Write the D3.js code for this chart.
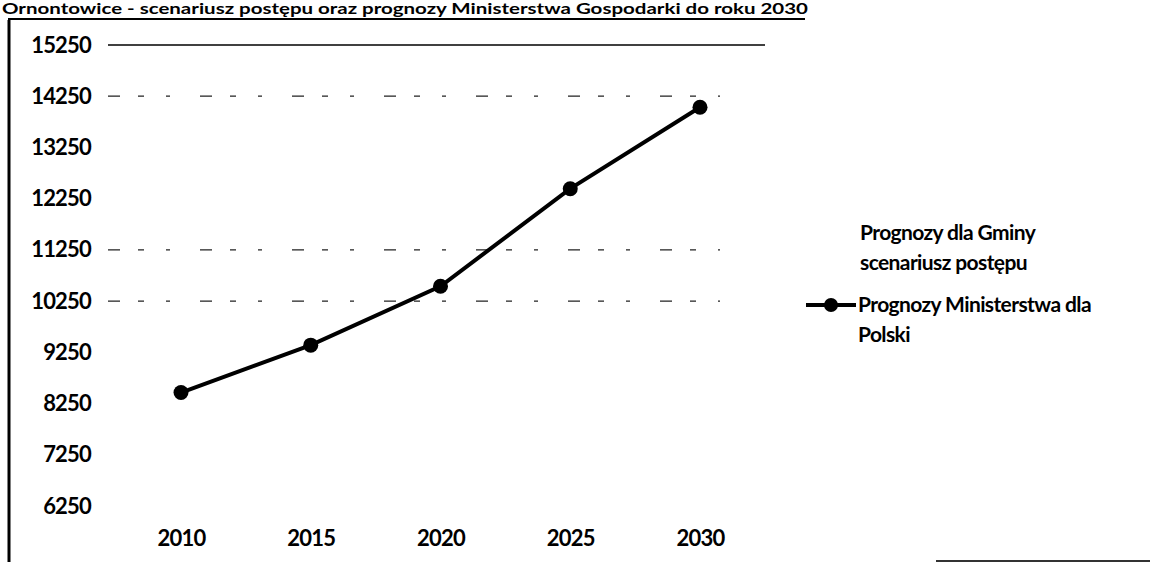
<!DOCTYPE html>
<html>
<head>
<meta charset="utf-8">
<script src="https://cdn.jsdelivr.net/npm/d3@7"></script>
<style>
  body { margin: 0; background: #fff; }
  svg { font-family: Lato, "Open Sans", sans-serif; font-weight: bold; }
</style>
</head>
<body>
<script>
const years = ["2010", "2015", "2020", "2025", "2030"];
const ministryValues = [8465, 9390, 10540, 12445, 14035];
const yTicks = [6250, 7250, 8250, 9250, 10250, 11250, 12250, 13250, 14250, 15250];
const visibleGrid = [10250, 11250, 14250];
const legendLabels = [["Prognozy dla Gminy", "scenariusz postępu"], ["Prognozy Ministerstwa dla", "Polski"]];
const title = "Ornontowice - scenariusz postępu oraz prognozy Ministerstwa Gospodarki do roku 2030";

const width = 1150, height = 562;

const svg = d3.select("body").append("svg")
  .attr("width", width)
  .attr("height", height);

// title squeezed into the strip above the frame
svg.append("text")
  .attr("x", 2)
  .attr("y", 14)
  .attr("font-size", 15)
  .attr("textLength", 806)
  .attr("lengthAdjust", "spacingAndGlyphs")
  .attr("fill", "#000")
  .text(title);

// frame pieces
svg.append("line").attr("x1", 8).attr("x2", 805).attr("y1", 19).attr("y2", 19)
  .attr("stroke", "#000").attr("stroke-width", 2);
svg.append("line").attr("x1", 9).attr("x2", 9).attr("y1", 20).attr("y2", 562)
  .attr("stroke", "#000").attr("stroke-width", 3);
svg.append("line").attr("x1", 936).attr("x2", 1150).attr("y1", 561).attr("y2", 561)
  .attr("stroke", "#333").attr("stroke-width", 2);

const x = d3.scalePoint()
  .domain(years)
  .range([181, 700]);

const y = d3.scaleLinear()
  .domain([6250, 15250])
  .range([506, 45]);

// gridlines
svg.append("line")
  .attr("x1", 108).attr("x2", 765)
  .attr("y1", y(15250)).attr("y2", y(15250))
  .attr("stroke", "#000").attr("stroke-width", 1.5);

svg.selectAll(".grid")
  .data(visibleGrid)
  .enter().append("line")
  .attr("class", "grid")
  .attr("x1", 108).attr("x2", 720)
  .attr("y1", d => y(d)).attr("y2", d => y(d))
  .attr("stroke", "#222")
  .attr("stroke-width", 1.2)
  .attr("stroke-dasharray", "12,18,6,22,4,30");

const labelStyle = sel => sel
  .attr("font-size", 22)
  .attr("font-family", "Lato, sans-serif")
  .attr("font-weight", "bold")
  .attr("letter-spacing", "-0.8")
  .attr("fill", "#000");

// y axis labels
const yAxis = svg.append("g")
  .attr("transform", "translate(98,0)")
  .call(d3.axisLeft(y).tickValues(yTicks).tickFormat(d3.format("d")).tickSize(0).tickPadding(7));
yAxis.select(".domain").remove();
yAxis.selectAll("text").call(labelStyle);

// x axis labels
const xAxis = svg.append("g")
  .attr("transform", "translate(0,530)")
  .call(d3.axisBottom(x).tickSize(0).tickPadding(0));
xAxis.select(".domain").remove();
xAxis.selectAll("text").call(labelStyle);

// series
const line = d3.line()
  .x((d, i) => x(years[i]))
  .y(d => y(d));

svg.append("path")
  .datum(ministryValues)
  .attr("d", line)
  .attr("fill", "none")
  .attr("stroke", "#000")
  .attr("stroke-width", 4);

svg.selectAll(".pt")
  .data(ministryValues)
  .enter().append("circle")
  .attr("class", "pt")
  .attr("cx", (d, i) => x(years[i]))
  .attr("cy", d => y(d))
  .attr("r", 7.5)
  .attr("fill", "#000");

// legend
const legend = svg.append("g").attr("font-size", 21).attr("letter-spacing", "-0.6").attr("fill", "#000");
legendLabels[0].forEach((t, i) => {
  legend.append("text").attr("x", 860).attr("y", 240 + i * 30).text(t);
});
legend.append("line")
  .attr("x1", 806).attr("x2", 856).attr("y1", 305).attr("y2", 305)
  .attr("stroke", "#000").attr("stroke-width", 4);
legend.append("circle")
  .attr("cx", 831).attr("cy", 305).attr("r", 7).attr("fill", "#000");
legendLabels[1].forEach((t, i) => {
  legend.append("text").attr("x", 858).attr("y", 312 + i * 30).text(t);
});
</script>
</body>
</html>
